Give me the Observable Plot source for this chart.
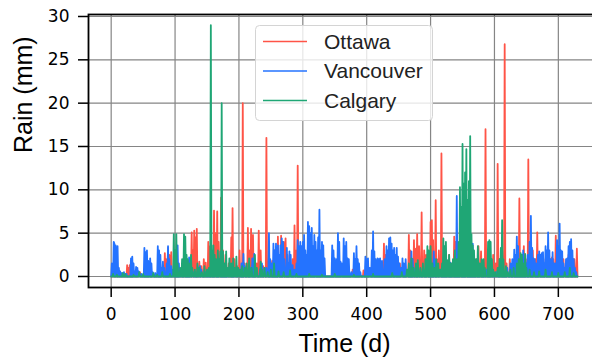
<!DOCTYPE html>
<html>
<head>
<meta charset="utf-8">
<script src="https://cdn.jsdelivr.net/npm/d3@7"></script>
<script src="https://cdn.jsdelivr.net/npm/@observablehq/plot@0.6"></script>
<style>
  html, body { margin: 0; padding: 0; background: white; overflow: hidden; }
  #chart { width: 592px; height: 358px; overflow: hidden; }
</style>
</head>
<body>
<div id="chart"></div>
<script>
// ---- Data (daily rain in mm; days not listed had no rain) ----
const cities = ["Ottawa", "Vancouver", "Calgary"];
const cityColors = ["#ff5447", "#2473ff", "#1fa675"];
const xTicks = [0, 100, 200, 300, 400, 500, 600, 700];
const yTicks = [0, 5, 10, 15, 20, 25, 30];
const lastDay = 730;

const ottawaRain = [
  [12,0.4],[25,1.3],[27,1.0],[29,1.3],[45,0.5],[60,0.6],[84,2.7],[86,2.0],[89,3.3],[91,2.5],[94,2.8],
  [112,1.5],[118,2.0],[121,1.8],[126,5.1],[128,3.0],[130,5.3],[132,4.5],[134,5.5],[138,1.7],[141,1.2],
  [145,2.0],[148,1.6],[152,4.0],[155,3.5],[161,7.6],[163,5.0],[166,7.5],[168,4.0],[172,9.1],[175,3.0],
  [179,2.5],[184,1.5],[188,4.5],[190,7.9],[193,2.0],[197,1.2],
  [201,3.0],[206,20.0],[209,1.5],[214,5.6],[216,3.0],[219,5.5],[222,4.8],[225,2.0],[228,1.5],[231,5.3],
  [234,3.0],[238,1.2],[243,16.0],[247,2.5],[252,1.8],[256,3.0],[261,4.6],[263,2.0],[266,4.7],[270,4.0],
  [273,4.4],[276,2.5],[280,1.5],[284,2.0],[287,5.9],[290,3.0],[292,12.8],[295,2.0],[300,1.5],
  [307,1.0],[320,0.8],[333,0.6],[360,1.2],[378,0.8],[395,0.7],[405,1.0],[427,3.8],[429,2.5],[445,1.0],[452,1.5],
  [466,4.8],[468,3.0],[471,2.0],[474,4.2],[477,3.2],[479,4.9],[482,3.5],[486,7.4],[490,3.0],[493,2.5],
  [496,1.8],[500,6.3],[502,6.5],[504,4.2],[508,8.8],[510,2.0],[513,3.0],[517,14.2],[520,2.0],[524,1.5],
  [529,2.5],[532,1.5],[537,4.6],[539,4.0],[543,2.0],[547,1.5],[552,2.0],[556,1.2],
  [572,2.0],[575,3.5],[579,2.9],[583,1.5],[586,17.0],[589,2.0],[593,1.2],[598,2.5],[602,1.5],[605,13.0],
  [608,2.0],[612,3.0],[616,26.8],[619,1.5],[624,2.0],[628,1.2],[633,2.5],[636,3.0],[639,9.0],[642,2.0],
  [646,3.5],[649,2.0],[653,13.5],[656,2.5],[660,3.0],[664,2.0],[667,5.1],[670,2.5],[675,1.5],[680,2.0],
  [684,3.0],[688,1.5],[690,2.2],[692,2.0],[696,4.7],[699,2.5],[703,1.5],[708,2.0],[712,1.5],[716,2.5],
  [720,1.5],[725,2.0],[729,3.2]
];

const vancouverRain = [
  [1,1.5],[2,0.8],[4,4.0],[5,3.8],[7,3.6],[8,2.0],[10,3.5],[12,1.0],[14,0.6],[16,0.4],[20,0.5],[24,0.3],
  [31,2.1],[33,2.3],[35,1.5],[37,0.6],[39,1.1],[41,1.0],[43,0.6],[47,0.3],[52,3.3],[54,2.8],[56,3.0],
  [58,1.8],[61,2.1],[63,1.5],[65,0.5],[69,0.4],[73,3.5],[75,3.0],[77,2.5],[79,1.0],[81,1.7],[83,1.0],
  [87,1.5],[89,3.5],[91,2.0],[94,1.2],[97,0.8],[104,3.6],[106,1.5],[110,0.8],
  [115,0.5],[122,2.2],[124,1.0],[128,0.5],[136,1.0],[139,1.2],[141,0.8],[147,0.5],[157,0.4],[163,0.6],
  [170,0.5],[184,1.0],[186,0.6],[195,0.5],
  [200,0.8],[204,1.5],[207,2.6],[209,1.2],[213,0.5],[218,1.0],[221,2.1],[224,2.6],[227,1.0],[233,0.8],
  [236,1.5],[240,1.0],[243,1.0],[247,5.0],[249,2.0],[251,1.5],[254,3.8],[256,3.0],[258,3.8],[261,3.6],
  [263,2.5],[265,3.6],[267,4.4],[269,4.0],[271,2.0],[273,1.0],[275,3.3],[277,1.5],[279,2.9],[281,2.5],
  [284,1.3],[287,0.8],[290,1.5],[292,4.2],[294,3.5],[296,4.0],[298,3.5],[300,4.0],[302,4.8],[304,3.0],
  [306,2.5],[308,6.3],[310,5.8],[312,5.0],[314,5.6],[316,3.5],[318,4.8],[320,4.0],[322,3.0],[324,4.5],
  [326,7.7],[328,3.0],[330,4.0],[332,3.6],[334,2.1],
  [346,3.6],[348,3.0],[350,2.1],[353,2.0],[355,5.0],[357,4.0],[359,1.7],[361,1.5],[364,4.4],[366,3.5],
  [368,4.0],[370,2.1],[372,2.0],[376,0.5],[380,2.7],[382,2.0],[384,3.5],[386,2.0],[388,1.5],[390,0.5],
  [398,2.3],[400,2.0],[402,2.1],[405,1.0],[408,3.0],[410,5.2],[412,2.9],[414,2.0],[417,2.1],[419,2.0],
  [421,2.1],[424,1.8],[428,2.0],[431,3.5],[433,3.0],[435,4.4],[437,4.5],[439,3.8],[441,3.0],[443,3.3],
  [445,2.5],[447,3.3],[449,2.3],[451,1.5],[454,1.0],[456,2.1],[458,1.5],
  [461,2.0],[464,0.8],[470,2.9],[472,2.0],[476,1.0],[481,0.8],[489,0.5],[495,0.7],[505,2.9],[507,2.0],
  [511,1.0],[515,0.8],[520,1.5],[523,2.5],[527,1.0],[531,1.6],[535,0.8],[541,9.3],[543,1.5],[547,0.5],
  [556,0.5],[566,3.8],[568,2.5],[572,1.0],[578,0.6],[588,0.8],[595,1.0],[603,0.5],[610,0.8],[620,1.0],
  [625,1.5],[628,2.0],[631,3.1],[633,2.5],[635,4.6],[637,3.5],[640,2.0],[643,2.5],[645,3.0],[648,2.0],
  [650,1.5],[652,2.5],[655,4.0],[657,7.0],[659,3.3],[661,2.1],[663,2.0],[665,1.5],[668,2.5],[670,2.9],
  [672,2.5],[674,2.7],[676,2.8],[678,1.5],[680,3.5],[682,3.0],[684,5.1],[686,3.0],[688,2.0],[691,2.8],
  [693,1.5],[695,1.5],[698,4.2],[700,3.5],[702,6.1],[704,3.0],[706,2.9],[708,1.5],[710,1.0],[712,2.0],
  [714,2.1],[716,3.5],[718,4.0],[720,4.3],[722,3.0],[724,2.0],[726,1.0],[728,0.5]
];

const calgaryRain = [
  [3,0.3],[9,0.2],[18,0.4],[22,0.3],[35,0.2],[44,0.5],[50,0.3],[66,0.4],[72,0.2],[80,0.5],[92,0.3],
  [98,4.9],[100,3.0],[102,4.9],[104,1.5],[108,1.0],[111,2.0],[114,4.9],[116,4.6],[118,2.5],[120,2.0],
  [123,1.5],[125,2.5],[127,1.0],[131,0.8],[135,1.5],[138,1.0],[142,0.5],[146,1.2],[150,0.8],[153,1.0],
  [156,29.0],[158,3.0],[160,3.6],[162,2.5],[164,2.0],[167,3.0],[169,2.0],[171,2.9],[173,20.0],[175,2.9],
  [177,1.5],[180,2.9],[182,1.0],[185,2.1],[188,1.5],[191,2.1],[193,1.0],[196,2.3],[199,1.0],[202,0.8],
  [205,1.2],[209,1.0],[212,1.5],[216,2.1],[220,1.0],[225,2.5],[228,1.0],[234,1.7],[236,0.8],[240,1.0],
  [245,0.5],[250,0.8],[255,1.5],[262,0.6],[270,0.5],[280,0.7],[290,0.3],
  [310,0.3],[330,0.2],[350,0.3],[380,0.2],[410,0.3],[440,0.4],[455,0.5],
  [463,0.8],[466,1.5],[470,2.1],[473,1.0],[477,1.5],[480,1.9],[484,1.0],[488,1.5],[492,2.0],[495,3.5],
  [497,3.0],[500,3.5],[503,1.5],[506,1.0],[509,2.0],[512,1.5],[515,0.8],[518,1.5],[520,4.4],[522,3.5],
  [524,4.0],[526,1.9],[529,2.5],[532,1.5],[535,2.0],[538,3.0],[541,2.0],[544,4.0],[546,10.3],[548,8.0],
  [550,15.3],[552,10.7],[554,12.0],[556,14.7],[558,8.8],[560,11.0],[562,16.2],[564,4.9],[566,3.6],
  [568,3.0],[571,2.0],[574,3.5],[577,1.5],[580,2.0],[583,2.0],[585,1.0],[590,4.0],[592,4.2],[594,4.0],
  [596,2.0],[598,0.8],[601,0.5],[605,1.0],[608,2.0],[610,3.3],[612,6.5],[614,2.0],[618,1.2],[621,0.5],
  [625,0.8],[630,1.0],[635,1.5],[638,2.0],[641,2.7],[643,2.5],[646,1.5],[648,2.6],[650,1.0],[655,0.8],
  [662,0.5],[670,0.6],[680,0.8],[690,0.5],[700,0.4],[710,0.5],[718,1.0],[724,0.4]
];

// Build full daily series (unlisted days = 0 mm)
const dayIndex = d3.range(0, lastDay + 1);
function daily(list) {
  const m = new Map(list);
  return dayIndex.map(d => ({day: d, mm: m.has(d) ? m.get(d) : 0}));
}
const series = [ottawaRain, vancouverRain, calgaryRain].map(daily);

const W = 592, H = 358;
const mL = 88, mT = 14, mB = 71, mR = -8;

const plot = Plot.plot({
  width: W,
  height: H,
  marginLeft: mL,
  marginRight: mR,
  marginTop: mT,
  marginBottom: mB,
  style: {fontFamily: "DejaVu Sans", fontSize: "17px", background: "white", color: "black", overflow: "visible"},
  x: {domain: [-35.5, 766], range: [mL, W - mR]},
  y: {domain: [-1.27, 30.23], range: [H - mB, mT]},
  marks: [
    Plot.gridX(xTicks, {stroke: "#858585", strokeOpacity: 1, strokeWidth: 1.2}),
    Plot.gridY(yTicks, {stroke: "#858585", strokeOpacity: 1, strokeWidth: 1.2}),
    ...series.map((s, i) => Plot.line(s, {x: "day", y: "mm", stroke: cityColors[i], strokeWidth: 1.8})),
    Plot.frame({stroke: "black", strokeWidth: 1.8}),
    Plot.axisX(xTicks, {tickSize: 10, tickPadding: 10, fontSize: 17, strokeWidth: 1.5, label: null}),
    Plot.axisY(yTicks, {tickSize: 10, tickPadding: 9, fontSize: 17, strokeWidth: 1.5, label: null}),
    Plot.text(["Time (d)"], {text: d => d, frameAnchor: "bottom", dy: 56.7, lineAnchor: "middle",
      fontSize: 25, fontFamily: "Liberation Sans, Arial, sans-serif"}),
    Plot.text(["Rain (mm)"], {text: d => d, frameAnchor: "left", dx: -65, dy: 2, rotate: -90, lineAnchor: "middle",
      fontSize: 25, fontFamily: "Liberation Sans, Arial, sans-serif"})
  ]
});

document.getElementById("chart").appendChild(plot);

// Legend inside the plot area
const svg = d3.select(plot);
const lg = svg.append("g").attr("font-family", "Liberation Sans, Arial, sans-serif").attr("font-size", 21)
  .attr("text-anchor", "start");
lg.append("rect").attr("x", 255.5).attr("y", 25.5).attr("width", 177).attr("height", 95).attr("rx", 4)
  .attr("fill", "white").attr("fill-opacity", 0.8).attr("stroke", "#d4d4d4").attr("stroke-width", 1);
const rowY = [41.5, 71, 100.5];
cities.forEach((name, i) => {
  lg.append("line").attr("x1", 263).attr("x2", 307).attr("y1", rowY[i]).attr("y2", rowY[i])
    .attr("stroke", cityColors[i]).attr("stroke-width", 1.6);
  lg.append("text").attr("x", 324).attr("y", rowY[i]).attr("dy", "0.35em").attr("text-anchor", "start")
    .attr("fill", "#222").text(name);
});
</script>
</body>
</html>
